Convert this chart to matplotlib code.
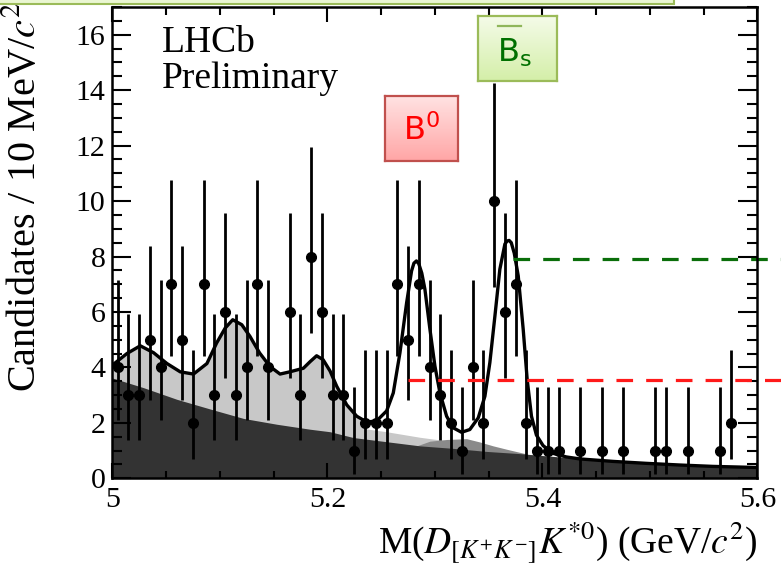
import math
import numpy as np
import matplotlib
matplotlib.use("Agg")
import matplotlib.pyplot as plt
from matplotlib.ticker import MultipleLocator, FuncFormatter
from matplotlib.colors import LinearSegmentedColormap
from matplotlib.patches import Rectangle

plt.rcParams['font.family'] = ['Liberation Serif', 'DejaVu Serif']
plt.rcParams['mathtext.fontset'] = 'stix'

# candidates per 10 MeV bin, 5.00 - 5.60 GeV
counts = [4, 3, 3, 5, 4, 7, 5, 2, 7, 3,
          6, 3, 4, 7, 4, 0, 6, 3, 8, 6,
          3, 3, 1, 2, 2, 2, 7, 5, 7, 4,
          3, 2, 1, 4, 2, 10, 6, 7, 2, 1,
          1, 1, 0, 1, 0, 1, 0, 1, 0, 0,
          1, 1, 0, 1, 0, 0, 1, 2, 0, 0]

# total fit curve
tot_x = [5.000, 5.0136, 5.026, 5.0384, 5.0508, 5.0632, 5.0755, 5.088, 5.097, 5.105,
         5.112, 5.1204, 5.128, 5.137, 5.1467, 5.156, 5.165, 5.1777, 5.184, 5.190,
         5.196, 5.2025, 5.2087, 5.2180, 5.2273, 5.2366, 5.2458, 5.2551, 5.2613, 5.2675,
         5.2737, 5.2783, 5.2805, 5.2828, 5.2850, 5.2878, 5.2907, 5.2954, 5.3000, 5.3047,
         5.3109, 5.3171, 5.3248, 5.3325, 5.3403, 5.3465, 5.3511, 5.3558, 5.3604, 5.3651,
         5.3672, 5.3690, 5.3710, 5.3738, 5.3775, 5.3821, 5.3858, 5.3898, 5.3944, 5.4006,
         5.4099, 5.4223, 5.4347, 5.4657, 5.4966, 5.5276, 5.5586, 5.6000]
tot_y = [4.08, 4.50, 4.78, 4.53, 4.14, 3.84, 3.76, 4.14, 4.88, 5.42,
         5.72, 5.54, 5.12, 4.52, 4.03, 3.76, 3.84, 3.97, 4.21, 4.42,
         4.28, 3.87, 3.32, 2.65, 2.24, 2.03, 2.07, 2.43, 3.08, 4.53,
         6.33, 7.48, 7.76, 7.84, 7.74, 7.40, 6.82, 5.37, 4.05, 3.08,
         2.24, 1.82, 1.66, 1.76, 2.18, 2.96, 4.17, 5.85, 7.54, 8.45,
         8.56, 8.58, 8.50, 8.12, 7.30, 5.38, 3.57, 2.24, 1.56, 1.18,
         0.90, 0.77, 0.70, 0.61, 0.54, 0.48, 0.43, 0.39]

# partially reconstructed component (light grey) where it leaves the total curve
light_x = [5.2366, 5.2551, 5.2706, 5.2861, 5.3016, 5.3171, 5.3325, 5.3480, 5.3650, 5.3800, 5.4000]
light_y = [1.78, 1.68, 1.58, 1.48, 1.40, 1.33, 1.22, 1.08, 0.96, 0.88, 0.82]

# medium grey bump
mid_x = [5.2830, 5.2954, 5.3109, 5.3294, 5.3418, 5.3542, 5.3666, 5.3852]
mid_y = [1.17, 1.34, 1.40, 1.43, 1.31, 1.17, 1.05, 0.88]

# combinatorial (dark)
comb_x = [5.000, 5.029, 5.060, 5.091, 5.122, 5.153, 5.184, 5.2025, 5.2242, 5.2551,
          5.2861, 5.3171, 5.3480, 5.3790, 5.3975, 5.4192, 5.4347, 5.4657, 5.4966, 5.5276,
          5.5586, 5.6000]
comb_y = [3.62, 3.27, 2.85, 2.50, 2.16, 1.95, 1.77, 1.68, 1.47, 1.32,
          1.17, 1.08, 0.97, 0.89, 0.83, 0.76, 0.70, 0.61, 0.54, 0.48,
          0.43, 0.39]

b0_level = 3.55
bs_level = 7.91


def poisson_cdf(k, mu):
    j = np.arange(k + 1)
    logp = -mu + j * np.log(mu) - np.array([math.lgamma(v + 1) for v in j])
    return np.exp(logp).sum()


def bisect(f, lo, hi):
    for _ in range(80):
        mid = 0.5 * (lo + hi)
        if f(mid) > 0:
            hi = mid
        else:
            lo = mid
    return 0.5 * (lo + hi)


def poisson_interval(n, alpha=0.158655):
    low = bisect(lambda mu: (1 - poisson_cdf(n - 1, mu)) - alpha, 1e-6, n + 20)
    high = bisect(lambda mu: alpha - poisson_cdf(n, mu), n, n + 30)
    return low, high


counts = np.array(counts)
centers = 5.005 + 0.01 * np.arange(len(counts))
mask = counts > 0
n = counts[mask]
lims = np.array([poisson_interval(int(k)) for k in n])
yerr = [n - lims[:, 0], lims[:, 1] - n]

fig = plt.figure(figsize=(7.81, 5.68), dpi=100)
ax = fig.add_axes([0.1438, 0.1579, 0.8261, 0.8298])

# light grey: total curve on the left, then its own shape
k = sum(1 for v in tot_x if v <= 5.2273)
ax.fill_between(tot_x[:k] + light_x, 0, tot_y[:k] + light_y, color='#c8c8c8', lw=0, zorder=1)
ax.fill_between(mid_x, 0, mid_y, color='#8a8a8a', lw=0, zorder=1.1)
ax.fill_between(comb_x, 0, comb_y, color='#333333', lw=0, zorder=1.2)
ax.plot(tot_x, tot_y, color='k', lw=2.4, zorder=3)
ax.errorbar(centers[mask], n, yerr=yerr, fmt='o', color='k', ms=7,
            elinewidth=2.0, capsize=0, zorder=4)

ax.plot([5.275, 5.627], [b0_level, b0_level], color='#ff1a1a', lw=2.3,
        dashes=(5.2, 4.1), clip_on=False, zorder=5)
ax.plot([5.3724, 5.627], [bs_level, bs_level], color='#0a6e0a', lw=2.3,
        dashes=(5.2, 4.1), clip_on=False, zorder=5)

ax.set_xlim(5, 5.6)
ax.set_ylim(0, 17)
ax.xaxis.set_major_locator(MultipleLocator(0.2))
ax.xaxis.set_minor_locator(MultipleLocator(0.05))
ax.yaxis.set_major_locator(MultipleLocator(2))
ax.yaxis.set_minor_locator(MultipleLocator(0.5))
ax.xaxis.set_major_formatter(FuncFormatter(lambda v, p: f'{v:g}'))
ax.tick_params(which='both', direction='in', top=True, right=True, width=1.5,
               labelsize=21.5, zorder=6)
ax.tick_params(axis='x', which='major', length=10.8, pad=6)
ax.tick_params(axis='x', which='minor', length=5.4)
ax.tick_params(axis='y', which='major', length=13.7, pad=5)
ax.tick_params(axis='y', which='minor', length=7.2)
for s in ax.spines.values():
    s.set_linewidth(1.8)
    s.set_zorder(6)

fig.text(0.9699, 1 - 554 / 568, r'M($D_{[K^{+}K^{-}]}K^{*0}$) (GeV/$c^{2}$)',
         ha='right', va='baseline', fontsize=27)
fig.text(0.032, 0.9965, r'Candidates / 10 MeV/$c^{2}$', rotation=90,
         ha='center', va='top', fontsize=29)

fig.text(161.7 / 781, 1 - 51.7 / 568, 'LHCb', fontsize=27, va='baseline')
fig.text(161.7 / 781, 1 - 88.3 / 568, 'Preliminary', fontsize=27, va='baseline')

# green strip at top
fig.patches.append(Rectangle((-0.01, 1 - 4 / 568), 674 / 781 + 0.01, 0.02,
                             transform=fig.transFigure, fc='#eaf6d2', ec='#9bbb59',
                             lw=1.5, zorder=10))


def gradient_box(rect, top, bottom, edge):
    bx = fig.add_axes(rect)
    cmap = LinearSegmentedColormap.from_list('g', [bottom, top])
    grad = np.linspace(0, 1, 64).reshape(-1, 1)
    bx.imshow(grad, cmap=cmap, aspect='auto', origin='lower', extent=(0, 1, 0, 1))
    bx.set_xlim(0, 1)
    bx.set_ylim(0, 1)
    bx.set_xticks([])
    bx.set_yticks([])
    for s in bx.spines.values():
        s.set_color(edge)
        s.set_linewidth(1.6)
    return bx


b0_box = gradient_box([385 / 781, 1 - 161 / 568, 73 / 781, 65 / 568],
                      '#ffe2e2', '#ffa6a6', '#c0504d')
b0_box.text(0.5, 0.323, r'$\mathrm{B}^{0}$', color='#ff0000', fontsize=23,
            math_fontfamily='dejavusans', ha='center', va='baseline')

bs_box = gradient_box([478 / 781, 1 - 81 / 568, 79 / 781, 65.3 / 568],
                      '#f5fbea', '#d4efa8', '#9bbb59')
bs_box.text(0.456, 0.296, r'$\mathrm{B}_{\mathrm{s}}$', color='#007000', fontsize=23,
            math_fontfamily='dejavusans', ha='center', va='baseline')
bs_box.plot([0.25, 0.54], [0.847, 0.847], color='#8fb65a', lw=1.6)

fig.savefig('out.png', dpi=100)
